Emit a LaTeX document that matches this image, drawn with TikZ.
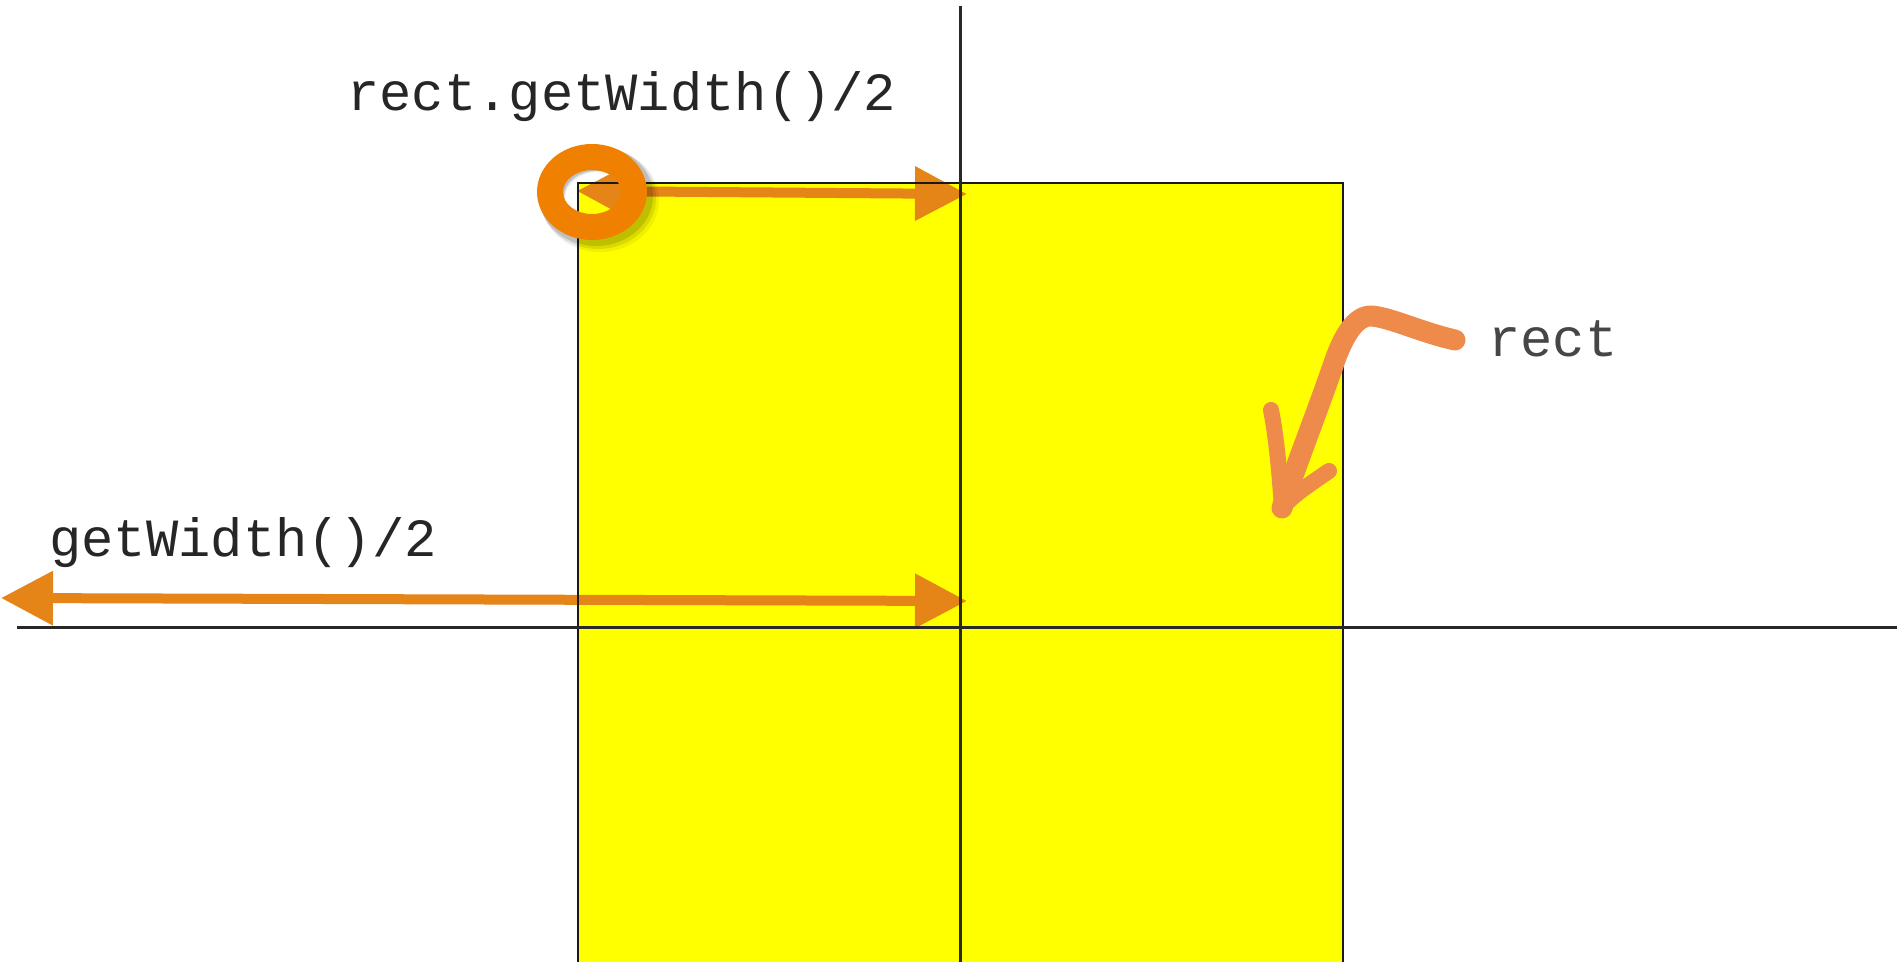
\documentclass[tikz,border=0pt]{standalone}
\usepackage{fontspec}
\setmonofont{Liberation Mono}
\usetikzlibrary{arrows.meta}

\definecolor{boxyellow}{RGB}{255,255,0}
\definecolor{axisgray}{RGB}{40,40,40}
\definecolor{arroworange}{RGB}{229,132,23}
\definecolor{ringorange}{RGB}{240,128,0}
\definecolor{brushorange}{RGB}{239,139,74}
\definecolor{labelgray}{RGB}{70,70,70}

\tikzset{
  axis/.style={draw=axisgray, line width=1.5pt},
  measure/.style={draw=arroworange, line width=5pt,
    {Triangle[length=26pt,width=26pt]}-{Triangle[length=26pt,width=26pt]}},
  brush/.style={draw=brushorange, line width=10.5pt, line cap=round, line join=round},
  barb/.style={draw=brushorange, line width=8pt, line cap=round},
  codelabel/.style={font=\ttfamily\fontsize{26.9}{30}\selectfont, inner sep=0pt, anchor=base west},
}

\begin{document}
\begin{tikzpicture}[x=0.5pt, y=-0.5pt]
  \useasboundingbox (0,0) rectangle (1897,962);
  \clip (0,0) rectangle (1897,962);
  \fill[white] (0,0) rectangle (1897,962);

  % rectangle corners and axis ends
  \coordinate (boxTL) at (578,183);
  \coordinate (boxBR) at (1343,975);
  \coordinate (vTop) at (960,6);
  \coordinate (vBot) at (960,962);
  \coordinate (hLeft) at (17,628);
  \coordinate (hRight) at (1897,628);

  % yellow rectangle body
  \fill[boxyellow] (boxTL) rectangle (boxBR);

  % width arrows
  \coordinate (topL) at (577,191);
  \coordinate (topR) at (967,194);
  \coordinate (lowL) at (1,598);
  \coordinate (lowR) at (967,601);
  \draw[measure] (topL) -- (topR);
  \draw[measure] (lowL) -- (lowR);

  % outline and axes
  \draw[black!90, line width=1.4pt] (boxTL) rectangle (boxBR);
  \draw[axis] (vTop) -- (vBot);
  \draw[axis] (hLeft) -- (hRight);

  % ring marking the rectangle origin, with a soft drop shadow
  \coordinate (ringC) at (592,192);
  \foreach \s/\o in {8/0.06, 6/0.09, 4/0.12} {
    \fill[black, opacity=\o, even odd rule]
      ([shift={(\s,\s)}]ringC) ellipse [x radius=27.5pt+0.25*\s pt, y radius=24pt+0.25*\s pt]
      ([shift={(\s,\s)}]ringC) ellipse [x radius=14.5pt+0.4*\s pt, y radius=11pt+0.4*\s pt];
  }
  \fill[ringorange, even odd rule] (ringC) ellipse [x radius=27.5pt, y radius=24pt]
    (ringC) ellipse [x radius=14.5pt, y radius=11pt];

  % hand-drawn pointer to the rectangle
  \coordinate (brushStart) at (1455,340);
  \coordinate (brushTip) at (1282,508);
  \coordinate (barbL) at (1271,410);
  \coordinate (barbR) at (1329,471);
  \draw[brush] (brushStart) .. controls (1420,332) and (1392,318) .. (1372,316)
    .. controls (1356,315) and (1344,335) .. (1335,360)
    .. controls (1318,410) and (1294,470) .. (brushTip);
  \draw[barb] (barbL) .. controls (1277,440) and (1280,480) .. (brushTip);
  \draw[barb] (barbR) .. controls (1310,484) and (1292,496) .. (brushTip);

  % labels
  \node[codelabel, text=black!85] (lblTop) at (347,111) {rect.getWidth()/2};
  \node[codelabel, text=black!85] (lblLow) at (49,557) {getWidth()/2};
  \node[codelabel, text=labelgray] (lblRect) at (1488,357) {rect};
\end{tikzpicture}
\end{document}
